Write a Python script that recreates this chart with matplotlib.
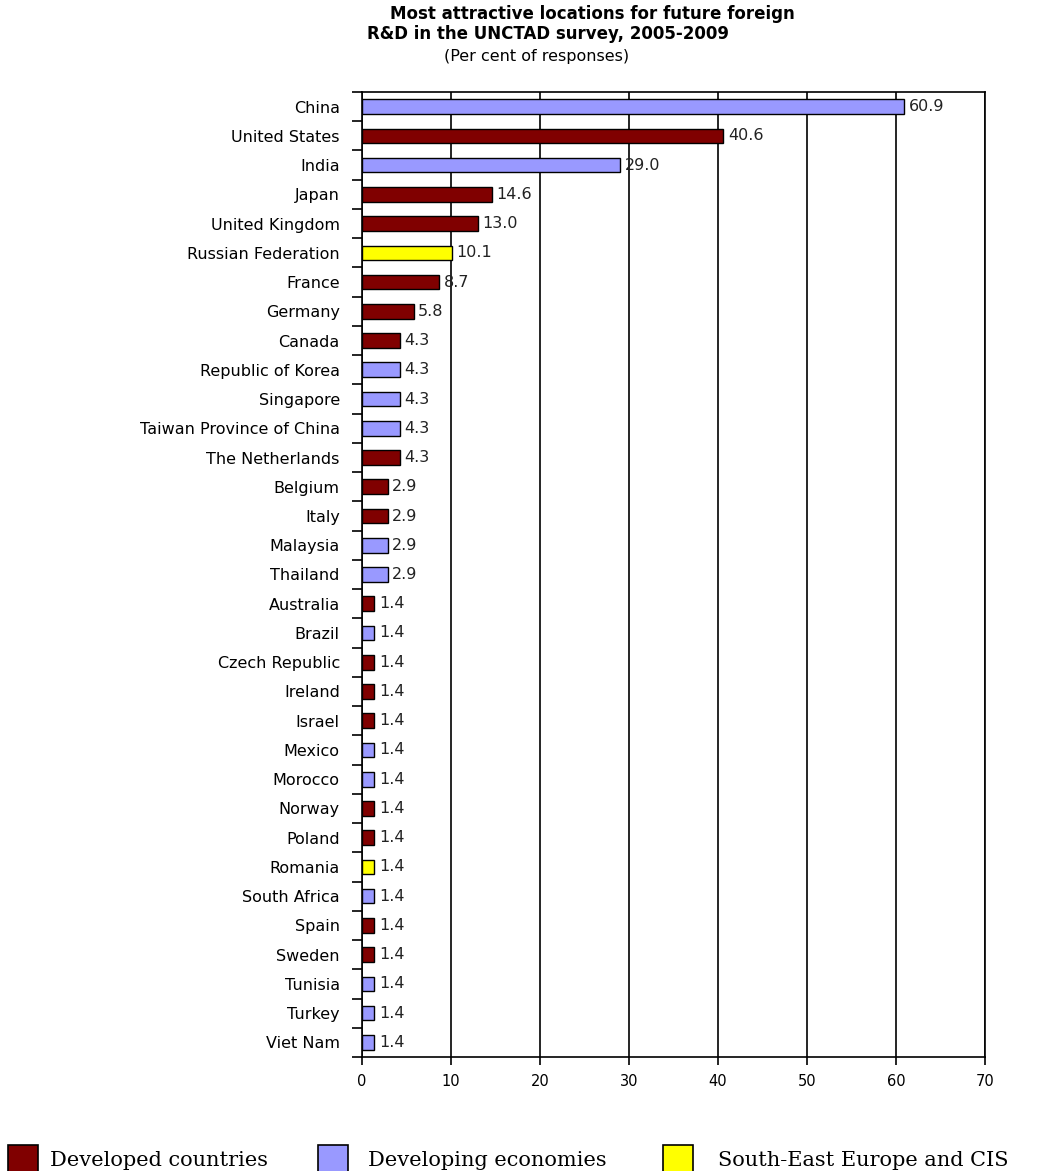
import matplotlib
matplotlib.use("Agg")
import matplotlib.pyplot as plt
from matplotlib.patches import Rectangle
import numpy as np

countries = [
    "China", "United States", "India", "Japan", "United Kingdom",
    "Russian Federation", "France", "Germany", "Canada", "Republic of Korea",
    "Singapore", "Taiwan Province of China", "The Netherlands", "Belgium",
    "Italy", "Malaysia", "Thailand", "Australia", "Brazil", "Czech Republic",
    "Ireland", "Israel", "Mexico", "Morocco", "Norway", "Poland", "Romania",
    "South Africa", "Spain", "Sweden", "Tunisia", "Turkey", "Viet Nam",
]
shares = [
    60.9, 40.6, 29.0, 14.6, 13.0, 10.1, 8.7, 5.8, 4.3, 4.3, 4.3, 4.3, 4.3,
    2.9, 2.9, 2.9, 2.9, 1.4, 1.4, 1.4, 1.4, 1.4, 1.4, 1.4, 1.4, 1.4, 1.4,
    1.4, 1.4, 1.4, 1.4, 1.4, 1.4,
]
# D = developed, E = developing, S = South-East Europe and CIS
groups = [
    "E", "D", "E", "D", "D", "S", "D", "D", "D", "E", "E", "E", "D", "D",
    "D", "E", "E", "D", "E", "D", "D", "D", "E", "E", "D", "D", "S", "E",
    "D", "D", "E", "E", "E",
]
group_names = {
    "D": "Developed countries",
    "E": "Developing economies",
    "S": "South-East Europe and CIS",
}
group_colors = {"D": "#800000", "E": "#9999FF", "S": "#FFFF00"}
x_ticks = [0, 10, 20, 30, 40, 50, 60, 70]

W, H = 1049, 1171
fig = plt.figure(figsize=(W / 100, H / 100), dpi=100)
ax = fig.add_axes([362 / W, 1 - 1057 / H, 623 / W, (1057 - 92) / H])

n = len(countries)
y = np.arange(n)
colors = [group_colors[g] for g in groups]
ax.barh(y, shares, height=0.5, color=colors, edgecolor="black",
        linewidth=1.0, zorder=3)

for yi, v in zip(y, shares):
    ax.text(v + 0.5, yi, f"{v:.1f}", va="center", ha="left",
            fontsize=11.5, color="#222222", family="DejaVu Sans", zorder=4)

ax.set_xlim(0, 70)
ax.set_ylim(n - 0.5, -0.5)
ax.set_xticks(x_ticks)
ax.set_xticklabels([str(t) for t in x_ticks], fontsize=10.5,
                   family="DejaVu Sans")
ax.set_yticks(y)
ax.set_yticklabels(countries, fontsize=11.5, family="DejaVu Sans")
ax.set_yticks(np.arange(n + 1) - 0.5, minor=True)
ax.tick_params(axis="y", which="major", length=0, pad=16)
ax.tick_params(axis="y", which="minor", length=7, width=1.2, direction="out")
ax.tick_params(axis="x", length=6, width=1.2, direction="out", pad=6)

ax.xaxis.grid(True, color="black", linewidth=1.2, zorder=0)
for s in ax.spines.values():
    s.set_linewidth(1.2)
    s.set_color("black")

# Title block
fig.text(592 / W, 1 - 14 / H, "Most attractive locations for future foreign",
         ha="center", va="center", fontsize=12, fontweight="bold",
         family="DejaVu Sans")
fig.text(548 / W, 1 - 34 / H, "R&D in the UNCTAD survey, 2005-2009",
         ha="center", va="center", fontsize=12, fontweight="bold",
         family="DejaVu Sans")
fig.text(537 / W, 1 - 56 / H, "(Per cent of responses)",
         ha="center", va="center", fontsize=11.5, family="DejaVu Sans")

# Legend row
legend_items = [("D", 8, 50), ("E", 318, 368), ("S", 663, 718)]
for key, sx, tx in legend_items:
    fig.patches.append(Rectangle((sx / W, 1 - 1172 / H), 30 / W, 27 / H,
                                 transform=fig.transFigure,
                                 facecolor=group_colors[key],
                                 edgecolor="black", linewidth=1.2))
    fig.text(tx / W, 1 - 1160 / H, group_names[key], ha="left",
             va="center", fontsize=15, family="DejaVu Serif")

fig.savefig("out.png", dpi=100)
